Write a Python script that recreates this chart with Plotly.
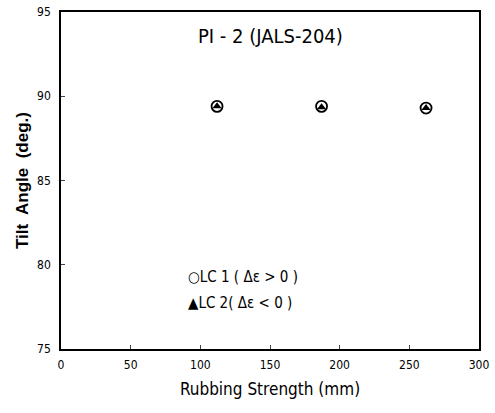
import plotly.graph_objects as go

rubbing = [112, 187, 262]
lc1_tilt = [89.4, 89.4, 89.3]
lc2_tilt = [89.4, 89.35, 89.3]
x_ticks = [0, 50, 100, 150, 200, 250, 300]
y_ticks = [75, 80, 85, 90, 95]

narrow = "DejaVu Sans Condensed, Liberation Sans Narrow, sans-serif"

fig = go.Figure()
fig.add_trace(go.Scatter(x=rubbing, y=lc1_tilt, mode="markers", name="LC 1",
                         marker=dict(symbol="circle-open", size=11, color="black",
                                     line=dict(width=1.8, color="black"))))
fig.add_trace(go.Scatter(x=rubbing, y=lc2_tilt, mode="markers", name="LC 2",
                         marker=dict(symbol="triangle-up", size=8, color="black")))

fig.add_annotation(x=150, y=93.6, text="PI - 2 (JALS-204)", showarrow=False,
                   font=dict(family=narrow, size=20, color="black"))
fig.add_annotation(x=90, y=79.25, text="○LC 1 ( Δε > 0 )", showarrow=False, xanchor="left",
                   font=dict(family=narrow, size=15, color="black"))
fig.add_annotation(x=90, y=77.75, text="▲LC 2( Δε < 0 )", showarrow=False, xanchor="left",
                   font=dict(family=narrow, size=15, color="black"))

fig.update_layout(
    width=495, height=413,
    margin=dict(l=61, r=16, t=12, b=64),
    paper_bgcolor="white", plot_bgcolor="white",
    showlegend=False,
    xaxis=dict(range=[0, 300], tickvals=x_ticks, ticks="inside", ticklen=4,
               showline=True, linecolor="black", linewidth=1.5, mirror=True,
               showgrid=False, zeroline=False, automargin=False,
               ticklabelstandoff=4,
               tickfont=dict(family=narrow, size=12, color="black"),
               title=dict(text="Rubbing Strength (mm)", standoff=12,
                          font=dict(family=narrow, size=17, color="black"))),
    yaxis=dict(range=[75, 95], tickvals=y_ticks, ticks="inside", ticklen=4,
               showline=True, linecolor="black", linewidth=1.5, mirror=True,
               showgrid=False, zeroline=False, automargin=False,
               ticklabelstandoff=6,
               tickfont=dict(family=narrow, size=12, color="black"),
               title=dict(text="<b>Tilt&nbsp; Angle&nbsp; (deg.)</b>", standoff=4,
                          font=dict(family="Liberation Sans, Arial, sans-serif", size=17, color="black"))),
)
fig.write_html("out.html", config={"displayModeBar": False},
               post_script="document.body.style.margin='0';")
